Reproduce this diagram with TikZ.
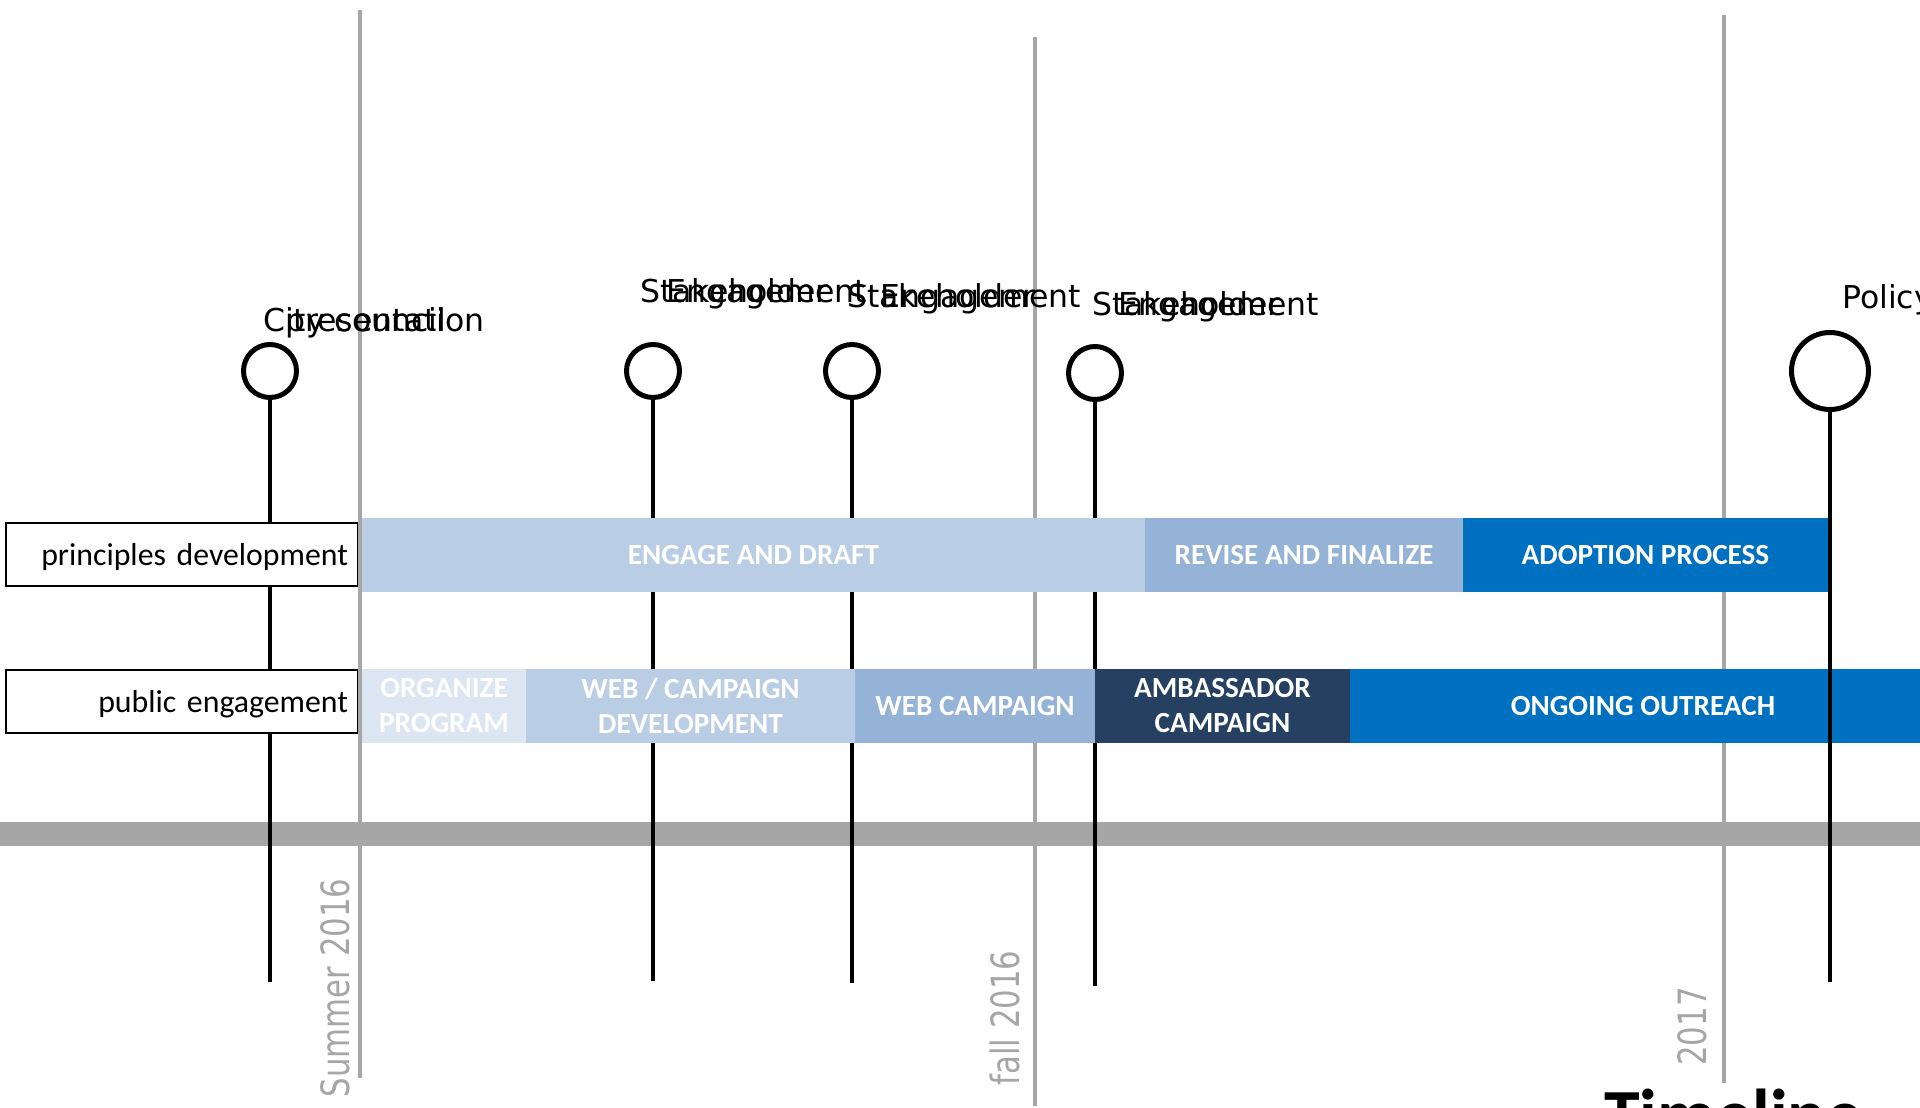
\documentclass[tikz,border=0pt]{standalone}
\usepackage{graphicx}
\usepackage{fontspec}
\setmainfont{Carlito}
\newfontfamily\labelfont{DejaVu Sans}
\usetikzlibrary{positioning}
\definecolor{eragray}{RGB}{166,166,166}
\definecolor{palest}{RGB}{220,230,242}
\definecolor{pale}{RGB}{185,205,229}
\definecolor{mid}{RGB}{149,179,215}
\definecolor{deep}{RGB}{0,112,192}
\definecolor{navy}{RGB}{37,64,97}

\begin{document}
\begin{tikzpicture}[
	x=1pt, y=-1pt,
	box/.style={draw, line width=2pt, fill=white, minimum width=352.5pt, minimum height=63pt, text width=332.5pt, text depth=0pt, inner xsep=10pt, align=right, font=\fontsize{31.8}{38}\selectfont},
	phasebar/.style={minimum height=74pt, inner sep=0pt, outer sep=0pt, text=white, align=center, font=\bfseries\fontsize{29.2}{35}\selectfont},
	milestone/.style={circle, draw, line width=5pt, fill=white, minimum size=53pt, inner sep=0pt},
	stem/.style={line width=4pt},
	era/.style={draw=eragray, line width=4.5pt},
	season/.style={rotate=90, anchor=base, inner sep=0pt, text=eragray, font=\labelfont\fontsize{39}{45}\selectfont},
	event/.style={anchor=base west, inner sep=0pt, font=\labelfont\fontsize{31.5}{38}\selectfont}
	]
	\useasboundingbox (0,0) rectangle (1920,1108);
	
	\fill[eragray] (0,822) rectangle (1920,846);
	
	\node[milestone] (m1) at (270,371) {};
	\node[milestone] (m2) at (653,371) {};
	\node[milestone] (m3) at (852,371) {};
	\node[milestone] (m4) at (1095,373) {};
	\node[milestone, minimum size=77pt] (m5) at (1830,371) {};
	\coordinate (e1) at (270,982);
	\coordinate (e2) at (653,981);
	\coordinate (e3) at (852,983);
	\coordinate (e4) at (1095,986);
	\coordinate (e5) at (1830,982);
	\draw[stem] (m1.south) -- (e1);
	\draw[stem] (m2.south) -- (e2);
	\draw[stem] (m3.south) -- (e3);
	\draw[stem] (m4.south) -- (e4);
	
	\node[box] (prin) at (181.75,554.5) {principles development};
	\node[box] (pub) at (181.75,701) {public engagement};
	
	\draw[era] (360,10) -- (360,1078);
	\draw[era] (1035,37) -- (1035,1106);
	\draw[era] (1724,15) -- (1724,1083);
	
	\node[phasebar, fill=pale, minimum width=783pt, anchor=west] (draft) at (362,555) {ENGAGE AND DRAFT};
	\node[phasebar, fill=mid, minimum width=318pt] (revise) [right=0 of draft] {REVISE AND FINALIZE};
	\node[phasebar, fill=deep, minimum width=365pt] (adopt) [right=0 of revise] {ADOPTION PROCESS};
	
	\node[phasebar, fill=palest, minimum width=164pt, anchor=west] (organize) at (362,706) {ORGANIZE\\PROGRAM};
	\node[phasebar, fill=pale, minimum width=329pt] (webdev) [right=0 of organize] {WEB / CAMPAIGN\\DEVELOPMENT};
	\node[phasebar, fill=mid, minimum width=240pt] (webcamp) [right=0 of webdev] {WEB CAMPAIGN};
	\node[phasebar, fill=navy, minimum width=255pt] (ambassador) [right=0 of webcamp] {AMBASSADOR\\CAMPAIGN};
	\node[phasebar, fill=deep, minimum width=586pt] (outreach) [right=0 of ambassador] {ONGOING OUTREACH};
	
	\draw[stem] (m5.south) -- (e5);
	
	\node[event] (council) at (263,331.5) {City council};
	\node[event] (presentation) at (285,331.5) {presentation};
	\node[event] (stake1) at (640,302) {Stakeholder};
	\node[event] (engage1) at (666,302) {Engagement};
	\node[event] (stake2) at (847,307) {Stakeholder};
	\node[event] (engage2) at (880,307) {Engagement};
	\node[event] (stake3) at (1092,315) {Stakeholder};
	\node[event] (engage3) at (1118,315) {Engagement};
	\node[event] (policy) at (1842,308) {Policy};
	
	\node[season] (summer) at (349,988) {\scalebox{.79}[1]{Summer 2016}};
	\node[season] (fall) at (1019.5,1018) {\scalebox{.79}[1]{fall 2016}};
	\node[season] (year) at (1706.5,1026.5) {\scalebox{.79}[1]{2017}};
	
	\node[anchor=base west, inner sep=0pt, font=\bfseries\fontsize{72}{80}\selectfont] (title) at (1604,1139) {Timeline};
\end{tikzpicture}
\end{document}
